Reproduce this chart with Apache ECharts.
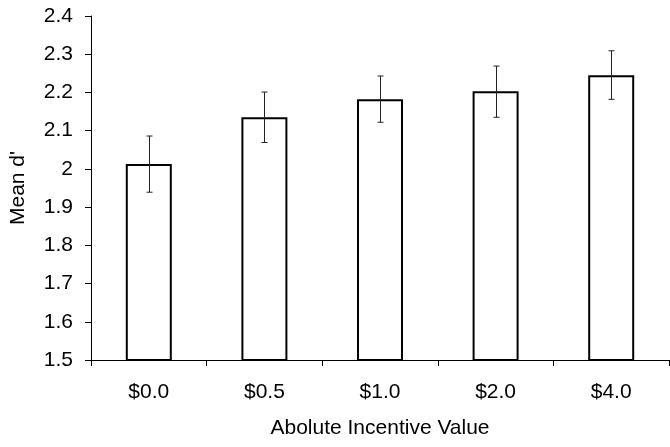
<!DOCTYPE html>
<html>
<head>
<meta charset="utf-8">
<script src="https://cdn.jsdelivr.net/npm/echarts@6/dist/echarts.min.js"></script>
<style>
html,body{margin:0;padding:0;background:#fff;}
#chart{width:670px;height:447px;}
</style>
</head>
<body>
<div id="chart"></div>
<script>
var categories = ['$0.0', '$0.5', '$1.0', '$2.0', '$4.0'];
var means = [2.013, 2.135, 2.182, 2.203, 2.245];
var lower = [1.939, 2.069, 2.122, 2.135, 2.182];
var upper = [2.086, 2.201, 2.243, 2.269, 2.309];
var yMin = 1.5, yMax = 2.4, yStep = 0.1;

var errData = categories.map(function (c, i) { return [i, lower[i], upper[i]]; });

var FONT = "'Liberation Sans', Arial, sans-serif";
var FS = 21;
var chart = echarts.init(document.getElementById('chart'), null, {renderer: 'canvas'});
chart.setOption({
  animation: false,
  backgroundColor: '#fff',
  grid: {left: 89, right: 1, top: 16, bottom: 87, containLabel: false},
  xAxis: {
    type: 'category',
    data: categories,
    name: 'Abolute Incentive Value',
    nameLocation: 'middle',
    nameGap: 58,
    nameTextStyle: {fontFamily: FONT, fontSize: FS, color: '#000'},
    axisLine: {lineStyle: {color: '#000', width: 1}},
    axisTick: {show: true, length: 6, lineStyle: {color: '#000'}},
    axisLabel: {fontFamily: FONT, fontSize: FS, color: '#000', margin: 22}
  },
  yAxis: {
    type: 'value',
    min: yMin, max: yMax, interval: yStep,
    name: "Mean d'",
    nameLocation: 'middle',
    nameGap: 62,
    nameTextStyle: {fontFamily: FONT, fontSize: FS, color: '#000'},
    splitLine: {show: false},
    axisLine: {show: true, lineStyle: {color: '#000', width: 1}},
    axisTick: {show: true, length: 6, lineStyle: {color: '#000'}},
    axisLabel: {fontFamily: FONT, fontSize: FS, color: '#000', margin: 18}
  },
  series: [
    {
      type: 'bar',
      data: means,
      barWidth: 46,
      itemStyle: {color: '#fff', borderColor: '#000', borderWidth: 2},
      z: 2
    },
    {
      type: 'custom',
      data: errData,
      z: 3,
      renderItem: function (params, api) {
        var x = api.value(0);
        var lo = api.coord([x, api.value(1)]);
        var hi = api.coord([x, api.value(2)]);
        var cx = Math.round(lo[0]) + 0.5;
        var w = 3;
        var style = {stroke: '#222', lineWidth: 1};
        return {
          type: 'group',
          children: [
            {type: 'line', shape: {x1: cx, y1: hi[1], x2: cx, y2: lo[1]}, style: style},
            {type: 'line', shape: {x1: cx - w, y1: hi[1], x2: cx + w, y2: hi[1]}, style: style},
            {type: 'line', shape: {x1: cx - w, y1: lo[1], x2: cx + w, y2: lo[1]}, style: style}
          ]
        };
      }
    }
  ]
});
</script>
</body>
</html>
